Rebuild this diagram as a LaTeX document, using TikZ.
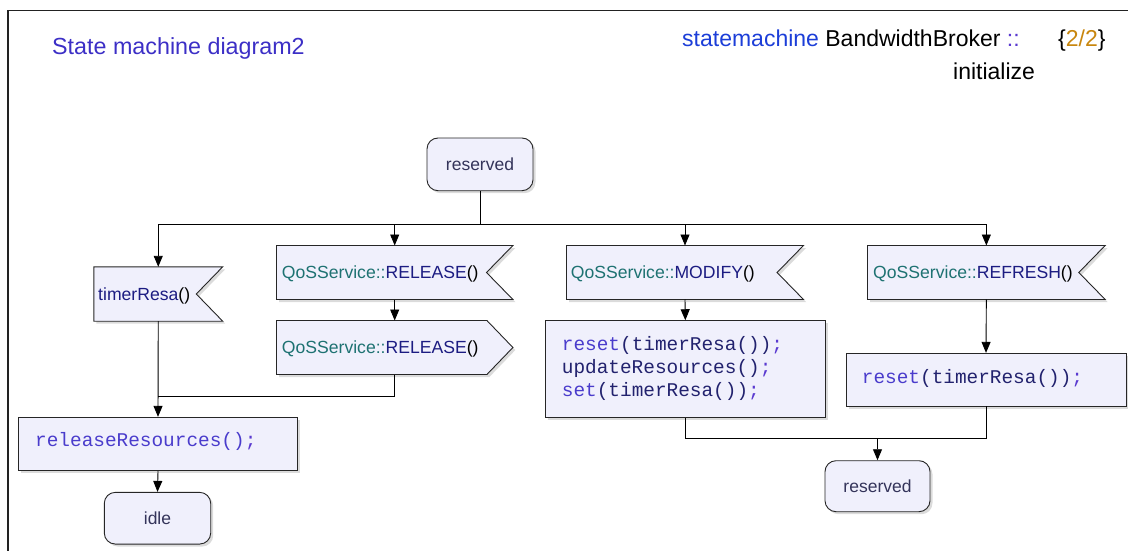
\documentclass[tikz,border=0pt]{standalone}
\usepackage{fontspec}
\setmainfont{Liberation Sans}
\setmonofont{Liberation Mono}
\usetikzlibrary{arrows.meta,shadows,calc}

\definecolor{titleblue}{HTML}{3C2FC6}
\definecolor{kwblue}{HTML}{1C3ED8}
\definecolor{colviol}{HTML}{5A3AD0}
\definecolor{goldc}{HTML}{C8860E}
\definecolor{nodefill}{HTML}{F0F0FC}
\definecolor{statetext}{HTML}{34345A}
\definecolor{tealc}{HTML}{1E7272}
\definecolor{navyc}{HTML}{1C1C82}
\definecolor{codeviol}{HTML}{4A3CCC}
\definecolor{codenavy}{HTML}{22226E}
\definecolor{framec}{HTML}{222222}

\begin{document}
\begin{tikzpicture}[x=1pt,y=-1pt,
  shp/.style={draw=black!85, line width=0.9pt, fill=nodefill,
    drop shadow={shadow xshift=2.5pt, shadow yshift=-2.5pt, fill=black!28}},
  statebox/.style={shp, rounded corners=11pt, inner sep=0pt, text=statetext,
    font=\fontsize{17.5}{21}\selectfont},
  hull/.style={draw=none, inner sep=0pt},
  sigtext/.style={inner sep=0pt, anchor=base west, font=\fontsize{17.6}{21}\selectfont},
  codetext/.style={inner sep=0pt, anchor=base west, font=\ttfamily\fontsize{19.4}{23}\selectfont},
  hdrtext/.style={inner sep=0pt, anchor=base west, font=\fontsize{23}{27}\selectfont},
  conn/.style={draw=black, line width=0.9pt},
  arr/.style={conn, -{Triangle[length=11pt,width=9pt]}}
]
\clip (0,0) rectangle (1128,551);

% frame
\draw[framec, line width=1.5pt] (8,560) -- (8,10.3) -- (1140,10.3);

% header
\node[hdrtext, text=titleblue, font=\fontsize{23.3}{27}\selectfont] (title) at (52,55) {State machine diagram2};
\node[hdrtext] (hdr) at (682,46.7) {{\color{kwblue}statemachine} BandwidthBroker {\color{colviol}::}};
\node[hdrtext] (hdr2) at (953,80) {initialize};
\node[hdrtext] (page) at (1058,46.7) {\{{\color{goldc}2/2}\}};

% states
\node[statebox, minimum width=106pt, minimum height=52.7pt] (res1) at (480,164.35) {reserved};
\node[statebox, minimum width=105pt, minimum height=51pt] (res2) at (877.5,486.2) {reserved};
\node[statebox, minimum width=106.4pt, minimum height=51.7pt] (idle) at (157.5,518.2) {idle};

% signal hulls
\node[hull, minimum width=128.5pt, minimum height=54pt] (tr) at (158.25,294) {};
\node[hull, minimum width=236pt, minimum height=53.6pt] (rs) at (394.7,272.5) {};
\node[hull, minimum width=236pt, minimum height=53.6pt] (ss) at (394.7,347.5) {};
\node[hull, minimum width=236.6pt, minimum height=53.6pt] (rm) at (685,272.5) {};
\node[hull, minimum width=237.3pt, minimum height=53.6pt] (rf) at (986.35,272.5) {};

% receive shapes
\foreach \n in {tr,rs,rm,rf}{
  \path[shp] (\n.north west) -- (\n.north east) -- ($(\n.east)+(-26.4,0)$)
     -- (\n.south east) -- (\n.south west) -- cycle;
}
% send shape
\path[shp] (ss.north west) -- ($(ss.north east)+(-26,0)$) -- (ss.east)
   -- ($(ss.south east)+(-26,0)$) -- (ss.south west) -- cycle;

% signal texts
\node[sigtext] (trt) at (98,300.3) {{\color{navyc}timerResa}()};
\node[sigtext] (rst) at (281.7,278.8) {{\color{tealc}QoSService::}{\color{navyc}RELEASE}()};
\node[sigtext] (sst) at (281.7,353.8) {{\color{tealc}QoSService::}{\color{navyc}RELEASE}()};
\node[sigtext] (rmt) at (570.7,278.8) {{\color{tealc}QoSService::}{\color{navyc}MODIFY}()};
\node[sigtext] (rft) at (873,278.8) {{\color{tealc}QoSService::}{\color{navyc}REFRESH}()};

% action boxes
\node[shp, inner sep=0pt, minimum width=279.4pt, minimum height=53.4pt] (rr) at (158,444) {};
\node[shp, inner sep=0pt, minimum width=279.3pt, minimum height=96.6pt] (am) at (685.35,369) {};
\node[shp, inner sep=0pt, minimum width=280pt, minimum height=52.7pt] (af) at (986,379.65) {};

\node[codetext] (rrt) at (35,446.7) {{\color{codeviol}releaseResources()}{\color{colviol};}};
\node[codetext] (amt1) at (561.7,350) {{\color{codeviol}reset}{\color{codenavy}(timerResa())}{\color{colviol};}};
\node[codetext] (amt2) at (561.7,373.2) {{\color{codenavy}updateResources()}{\color{colviol};}};
\node[codetext] (amt3) at (561.7,396.5) {{\color{codeviol}set}{\color{codenavy}(timerResa())}{\color{colviol};}};
\node[codetext] (aft) at (861.7,383) {{\color{codeviol}reset}{\color{codenavy}(timerResa())}{\color{colviol};}};

% connectors
\coordinate (hub) at (480,224);
\coordinate (m1) at (158,396);
\coordinate (m2) at (877.5,438.3);

\draw[conn] (res1.south) -- (hub);
\draw[arr] (hub) -| (tr.north);
\draw[arr] (hub) -| (rs.north);
\draw[arr] (hub) -| (rm.north);
\draw[arr] (hub) -| (rf.north);

\draw[arr] (rs.south) -- (ss.north);
\draw[arr] (tr.south) -- (rr.north);
\draw[conn] (ss.south) |- (m1);
\draw[arr] (rr.south) -- (idle.north);

\draw[arr] (rm.south) -- (am.north);
\draw[arr] (rf.south) -- (af.north);
\draw[conn] (am.south) |- (m2);
\draw[conn] (af.south) |- (m2);
\draw[arr] (m2) -- (res2.north);
\end{tikzpicture}
\end{document}
